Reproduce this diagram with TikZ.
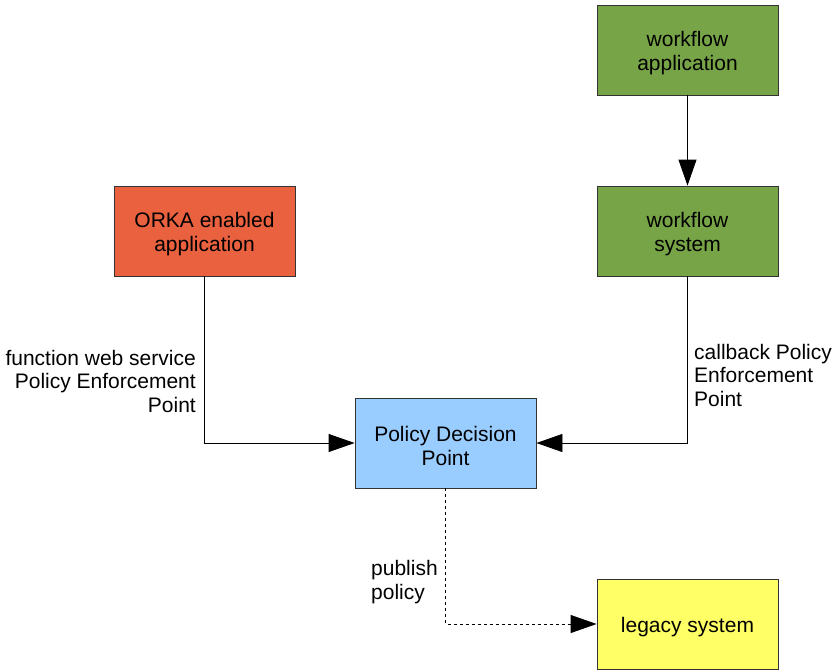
\documentclass[tikz,border=0pt]{standalone}
\usepackage{fontspec}
\setmainfont{Liberation Sans}
\usetikzlibrary{arrows.meta}
\definecolor{orkared}{HTML}{EA6140}
\definecolor{wfgreen}{HTML}{77A447}
\definecolor{pdpblue}{HTML}{99CCFF}
\definecolor{legyellow}{HTML}{FFFF66}
\definecolor{edge}{HTML}{333333}
% taller first line so the block text sits a little lower
\newcommand{\blkstrut}{\rule{0pt}{21pt}}
\tikzset{
  block/.style={draw=edge, line width=0.8pt, minimum width=181pt, minimum height=90pt,
    inner sep=0pt, align=center, font=\fontsize{21}{23.5}\selectfont},
  lbl/.style={inner sep=0pt, font=\fontsize{21}{23.5}\selectfont},
  flow/.style={line width=0.8pt, -{Triangle[length=26pt,width=18pt]}},
}
\begin{document}
\begin{tikzpicture}[x=1pt,y=-1pt]
\useasboundingbox (0,0) rectangle (833,670);
\node[block, fill=wfgreen] (wfapp) at (687.5,50) {\blkstrut workflow\\application};
\node[block, fill=wfgreen] (wfsys) at (687.5,231) {\blkstrut workflow\\system};
\node[block, fill=orkared] (orka) at (204.5,231) {\blkstrut ORKA enabled\\application};
\node[block, fill=pdpblue] (pdp) at (445.5,443) {\blkstrut Policy Decision\\Point};
\node[block, fill=legyellow] (legacy) at (687.5,624) {\blkstrut legacy system};

\draw[flow] (wfapp) -- (wfsys);
\draw[flow] (orka.south) |- (pdp.west);
\draw[flow] (wfsys.south) |- (pdp.east);
\draw[flow, dashed, dash pattern=on 3pt off 3pt] (pdp.south) |- (legacy.west);

\node[lbl, anchor=east, align=right] (lfn) at (196,381) {function web service\\Policy Enforcement\\Point};
\node[lbl, anchor=west, align=left] (lcb) at (694,375) {callback Policy\\Enforcement\\Point};
\node[lbl, anchor=west, align=left] (lpub) at (371,582) {publish\\policy};
\end{tikzpicture}
\end{document}
